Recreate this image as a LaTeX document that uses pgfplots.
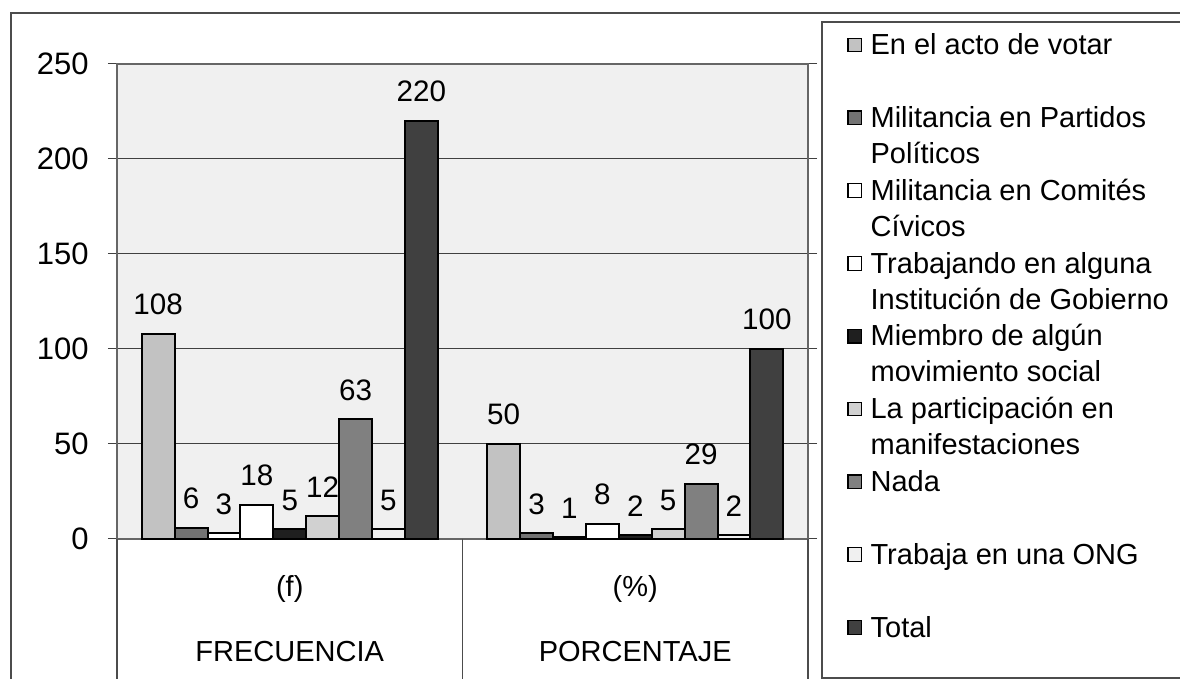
\documentclass[border=0pt]{standalone}
\usepackage{fontspec}
\setmainfont{Liberation Sans}
\usepackage{pgfplots}
\pgfplotsset{compat=1.18}
\newcommand{\legtxt}[1]{\parbox[t][36.4pt][t]{170pt}{\raggedright\strut #1}}
\begin{document}
\begin{tikzpicture}
\useasboundingbox (0,0) rectangle (590pt,339.5pt);
\draw[line width=0.8pt, black!70] (5.5pt,-5pt) rectangle (600pt,333pt);
\draw[line width=0.8pt, black!70] (411pt,0.5pt) rectangle (600pt,328.5pt);
\begin{axis}[
  at={(58.5pt,70pt)}, anchor=south west,
  scale only axis, width=345.5pt, height=237.5pt,
  ybar=0pt, bar width=16.45pt,
  xmin=-0.5, xmax=1.5, ymin=0, ymax=250,
  xtick=\empty,
  ytick={0,50,...,250},
  ymajorgrids, grid style={black!75, line width=0.5pt},
  tick align=outside, major tick length=4.5pt,
  ytick style={black!75, line width=0.5pt},
  yticklabel style={font=\fontsize{15.5}{18}\selectfont, inner sep=0pt, xshift=-9.5pt},
  /pgf/number format/assume math mode=true,
  axis background/.style={fill=black!6},
  axis line style={black!60, line width=0.6pt},
  clip=false,
  nodes near coords,
  every node near coord/.append style={font=\fontsize{14.8}{18}\selectfont, anchor=base, inner sep=0pt, yshift=9.5pt, black},
  every axis plot post/.append style={draw=black, line width=1pt, legend image code/.code={\draw[##1,line width=0.6pt] (0pt,1.5pt) rectangle (6.8pt,8.3pt);}},
  legend style={at={(1.05644,1.0733)}, anchor=north west, draw=none, fill=none,
    inner sep=0pt, row sep=0pt, column sep=4.2pt,
    font=\fontsize{14.5}{18}\selectfont,
    nodes={inner sep=0pt, text depth=}, cells={anchor=base west}},
]
\addplot[fill=black!24] coordinates {(0,108) (1,50)};
\addlegendentry{\legtxt{En el acto de votar}}
\addplot[fill=black!55] coordinates {(0,6) (1,3)};
\addlegendentry{\legtxt{Militancia en Partidos\\Políticos}}
\addplot[fill=white] coordinates {(0,3) (1,1)};
\addlegendentry{\legtxt{Militancia en Comités\\Cívicos}}
\addplot[fill=white] coordinates {(0,18) (1,8)};
\addlegendentry{\legtxt{Trabajando en alguna\\Institución de Gobierno}}
\addplot[fill=black!88] coordinates {(0,5) (1,2)};
\addlegendentry{\legtxt{Miembro de algún\\movimiento social}}
\addplot[fill=black!18] coordinates {(0,12) (1,5)};
\addlegendentry{\legtxt{La participación en\\manifestaciones}}
\addplot[fill=black!50] coordinates {(0,63) (1,29)};
\addlegendentry{\legtxt{Nada}}
\addplot[fill=black!6] coordinates {(0,5) (1,2)};
\addlegendentry{\legtxt{Trabaja en una ONG}}
\addplot[fill=black!75] coordinates {(0,220) (1,100)};
\addlegendentry{\legtxt{Total}}
\draw[black!70, line width=0.8pt] (axis cs:-0.5,0) -- (axis cs:-0.5,-80);
\draw[black!70, line width=0.8pt] (axis cs:0.5,0) -- (axis cs:0.5,-80);
\draw[black!70, line width=0.8pt] (axis cs:1.5,0) -- (axis cs:1.5,-80);
\node[anchor=base, font=\fontsize{14.5}{18}\selectfont] at (axis cs:0,-30.5) {(f)};
\node[anchor=base, font=\fontsize{14.5}{18}\selectfont] at (axis cs:1,-30.5) {(\%)};
\node[anchor=base, font=\fontsize{14.5}{18}\selectfont] at (axis cs:0,-64.7) {FRECUENCIA};
\node[anchor=base, font=\fontsize{14.5}{18}\selectfont] at (axis cs:1,-64.7) {PORCENTAJE};
\end{axis}
\end{tikzpicture}
\end{document}
